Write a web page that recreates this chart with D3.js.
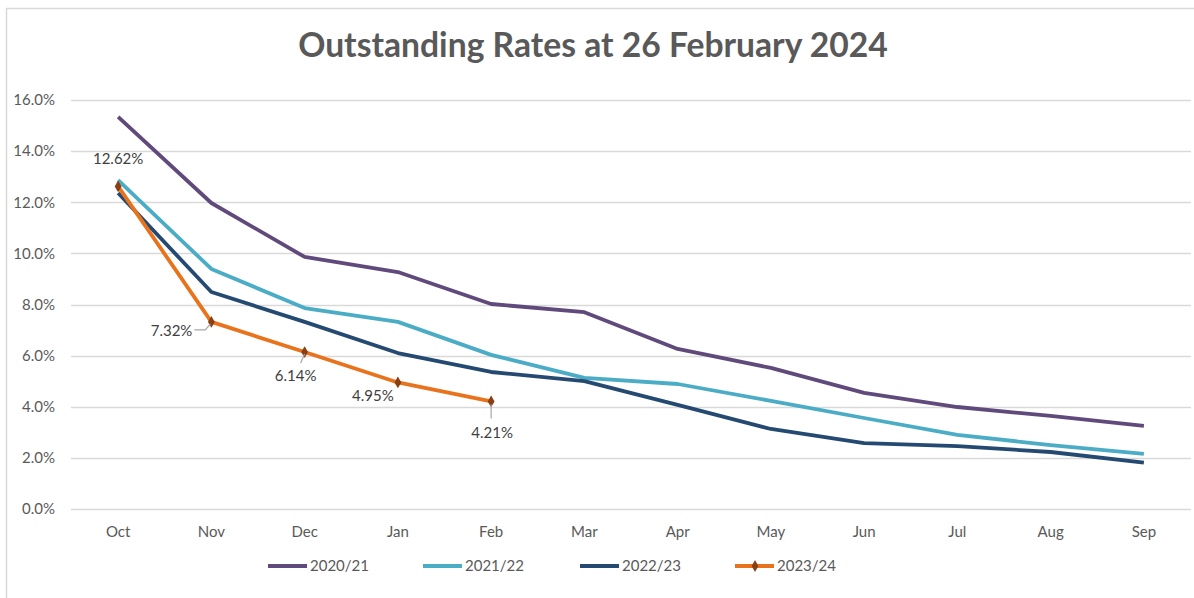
<!DOCTYPE html>
<html>
<head>
<meta charset="utf-8">
<script src="https://cdn.jsdelivr.net/npm/d3@7"></script>
<style>
  html, body { margin: 0; padding: 0; background: #fff; }
  svg { display: block; font-family: Lato, "Open Sans", sans-serif; }
</style>
</head>
<body>
<svg width="1194" height="598"></svg>
<script>
// categories
const months = ['Oct','Nov','Dec','Jan','Feb','Mar','Apr','May','Jun','Jul','Aug','Sep'];
const yTicks = [0, 0.02, 0.04, 0.06, 0.08, 0.10, 0.12, 0.14, 0.16];

// series values
const rates2021 = [0.1534, 0.1197, 0.0986, 0.0927, 0.0802, 0.0770, 0.0626, 0.0552, 0.0454, 0.0399, 0.0364, 0.0325];
const rates2122 = [0.1287, 0.0939, 0.0786, 0.0732, 0.0603, 0.0513, 0.0489, 0.0423, 0.0356, 0.0290, 0.0250, 0.0216];
const rates2223 = [0.1236, 0.0849, 0.0732, 0.0610, 0.0536, 0.0500, 0.0407, 0.0313, 0.0258, 0.0246, 0.0223, 0.0181];
const rates2324 = [0.1262, 0.0732, 0.0614, 0.0495, 0.0421];

const seriesNames = ['2020/21', '2021/22', '2022/23', '2023/24'];
const seriesColors = ['#604a7b', '#4bacc6', '#254a72', '#e8731c'];

const svg = d3.select('svg');
const W = 1194, H = 598;

svg.append('rect').attr('width', W).attr('height', H).attr('fill', '#fff');
// chart area border (only top/left visible in the reference)
svg.append('rect')
  .attr('x', 6.5).attr('y', 8.5)
  .attr('width', W + 20).attr('height', H + 20)
  .attr('fill', 'none').attr('stroke', '#d9d9d9').attr('stroke-width', 1.5);

const x = d3.scaleBand().domain(months).range([71.5, 1190.5]).padding(0);
const y = d3.scaleLinear().domain([0, 0.16]).range([509, 100]);
const cx = (m) => x(m) + x.bandwidth() / 2;

// title
const title = svg.append('text')
  .attr('x', 593).attr('y', 57)
  .attr('text-anchor', 'middle')
  .attr('font-weight', 'bold')
  .attr('font-size', 30)
  .attr('fill', '#595959')
  .text('Outstanding Rates at 26 February 2024');
// make the title about as wide as in the picture
const tw = title.node().getComputedTextLength();
title.attr('font-size', 30 * 590 / tw);

// gridlines
svg.append('g').selectAll('line')
  .data(yTicks)
  .join('line')
  .attr('x1', 71).attr('x2', 1191)
  .attr('y1', d => Math.round(y(d)) + 0.5).attr('y2', d => Math.round(y(d)) + 0.5)
  .attr('stroke', '#d9d9d9').attr('stroke-width', 1.3);

// y axis labels
const yAxis = svg.append('g')
  .attr('transform', 'translate(63,0)')
  .call(d3.axisLeft(y).tickValues(yTicks).tickFormat(d3.format('.1%')).tickSize(0).tickPadding(8));
yAxis.select('.domain').remove();
yAxis.selectAll('text')
  .attr('font-family', 'Lato, "Open Sans", sans-serif')
  .attr('font-size', 15).attr('fill', '#595959');

// x axis labels
const xAxis = svg.append('g')
  .attr('transform', 'translate(0,509)')
  .call(d3.axisBottom(x).tickSize(0).tickPadding(17));
xAxis.select('.domain').remove();
xAxis.selectAll('text')
  .attr('font-family', 'Lato, "Open Sans", sans-serif')
  .attr('font-size', 15).attr('fill', '#595959');

// lines
const allSeries = [rates2021, rates2122, rates2223, rates2324];
const line = d3.line()
  .x((d, i) => cx(months[i]))
  .y(d => y(d));

svg.append('g').selectAll('path')
  .data(allSeries)
  .join('path')
  .attr('d', d => line(d))
  .attr('fill', 'none')
  .attr('stroke', (d, i) => seriesColors[i])
  .attr('stroke-width', 3.8)
  .attr('stroke-linejoin', 'round');

// markers on 2023/24
const diamond = d3.symbol().type(d3.symbolDiamond).size(40);
svg.append('g').selectAll('path')
  .data(rates2324)
  .join('path')
  .attr('transform', (d, i) => `translate(${cx(months[i])},${y(d)})`)
  .attr('d', diamond)
  .attr('fill', '#8a3f12');

// data labels for 2023/24 (dx,dy from the point, plus optional leader line)
const labelPos = [
  {dx: 0, dy: -28, anchor: 'middle', leader: null},
  {dx: -19, dy: 9, anchor: 'end', leader: [[-17, 8], [-6, 8], [-1, 2]]},
  {dx: -9, dy: 24, anchor: 'middle', leader: [[-4, 11], [0, 2]]},
  {dx: -25, dy: 13, anchor: 'middle', leader: null},
  {dx: 1, dy: 31, anchor: 'middle', leader: [[0, 17], [0, 3]]}
];
const fmtLabel = d3.format('.2%');

const labels = svg.append('g');
rates2324.forEach((v, i) => {
  const px = cx(months[i]), py = y(v);
  const p = labelPos[i];
  if (p.leader) {
    labels.append('path')
      .attr('d', d3.line()(p.leader.map(q => [px + q[0], py + q[1]])))
      .attr('fill', 'none').attr('stroke', '#a6a6a6').attr('stroke-width', 1.2);
  }
  labels.append('text')
    .attr('x', px + p.dx).attr('y', py + p.dy)
    .attr('dy', '0.35em')
    .attr('text-anchor', p.anchor)
    .attr('font-size', 15).attr('fill', '#404040')
    .text(fmtLabel(v));
});

// legend
const legendX = [268, 423, 580, 735];
const legend = svg.append('g').attr('transform', 'translate(0,566)');
seriesNames.forEach((name, i) => {
  const g = legend.append('g').attr('transform', `translate(${legendX[i]},0)`);
  g.append('line')
    .attr('x1', 0).attr('x2', 39).attr('y1', 0).attr('y2', 0)
    .attr('stroke', seriesColors[i]).attr('stroke-width', 3.8);
  if (i === 3) {
    g.append('path').attr('transform', 'translate(20,0)').attr('d', diamond).attr('fill', '#8a3f12');
  }
  g.append('text')
    .attr('x', 42).attr('y', 0).attr('dy', '0.35em')
    .attr('font-size', 15).attr('fill', '#595959')
    .text(name);
});
</script>
</body>
</html>
